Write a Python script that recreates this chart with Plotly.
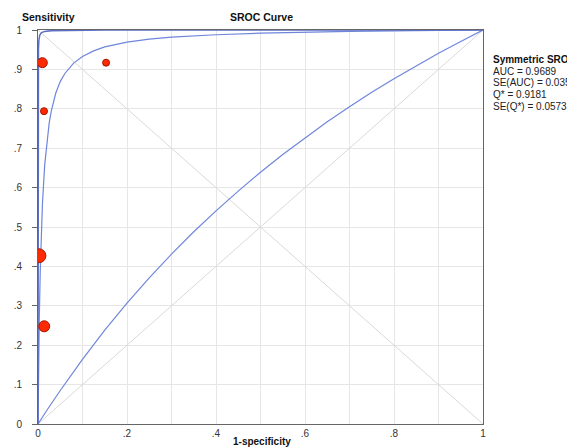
import plotly.graph_objects as go

# Study points (1-specificity, sensitivity, relative weight)
study_fpr = [0.0097, 0.153, 0.0135, 0.002, 0.014]
study_sens = [0.917, 0.917, 0.794, 0.427, 0.248]
study_weight = [5.0, 3.5, 3.5, 7.0, 5.5]

# Outer (tight) curve
outer_fpr = [0, 0.00002, 0.0001, 0.0003, 0.0006, 0.001, 0.002, 0.004, 0.008, 0.015, 0.03, 0.06, 0.15, 0.4, 1.0]
outer_sens = [0, 0.275, 0.655, 0.851, 0.919, 0.950, 0.974, 0.987, 0.9934, 0.9965, 0.9984, 0.9992, 0.9997, 0.9999, 1.0]

# Symmetric SROC curve (middle)
mid_fpr = [0, 0.0005, 0.001, 0.002, 0.003, 0.005, 0.0075, 0.01, 0.015, 0.02, 0.025, 0.03, 0.04, 0.05, 0.06,
           0.08, 0.1, 0.125, 0.15, 0.2, 0.25, 0.3, 0.4, 0.5, 0.6, 0.7, 0.8, 0.9, 1.0]
mid_sens = [0, 0.059, 0.112, 0.201, 0.274, 0.387, 0.487, 0.559, 0.657, 0.720, 0.763, 0.795, 0.840, 0.869, 0.889,
            0.916, 0.933, 0.947, 0.957, 0.969, 0.977, 0.982, 0.988, 0.992, 0.9947, 0.9966, 0.998, 0.9991, 1.0]

# Lower curve
low_fpr = [0, 0.005, 0.02, 0.05, 0.1, 0.15, 0.2, 0.25, 0.3, 0.35, 0.4, 0.45, 0.5, 0.55, 0.6, 0.65, 0.7, 0.75, 0.8,
           0.85, 0.9, 0.95, 1.0]
low_sens = [0, 0.009, 0.035, 0.085, 0.164, 0.238, 0.307, 0.371, 0.431, 0.488, 0.541, 0.591, 0.639, 0.684, 0.726,
            0.767, 0.805, 0.842, 0.876, 0.909, 0.941, 0.971, 1.0]

x_ticks = [0, 0.2, 0.4, 0.6, 0.8, 1]
x_tick_labels = ["0", ".2", ".4", ".6", ".8", "1"]
y_ticks = [0, 0.1, 0.2, 0.3, 0.4, 0.5, 0.6, 0.7, 0.8, 0.9, 1]
y_tick_labels = ["0", ".1", ".2", ".3", ".4", ".5", ".6", ".7", ".8", ".9", "1"]

stats_title = "Symmetric SROC"
stats_lines = ["AUC = 0.9689", "SE(AUC) = 0.0350", "Q* = 0.9181", "SE(Q*) = 0.0573"]

curve_color = "#6f86dc"
diag_color = "#d9d9d9"
font_family = "Liberation Sans, Arial, sans-serif"

fig = go.Figure()

# diagonals
fig.add_trace(go.Scatter(x=[0, 1], y=[0, 1], mode="lines", line=dict(color=diag_color, width=1), hoverinfo="skip"))
fig.add_trace(go.Scatter(x=[0, 1], y=[1, 0], mode="lines", line=dict(color=diag_color, width=1), hoverinfo="skip"))

fig.add_trace(go.Scatter(x=low_fpr, y=low_sens, mode="lines", line=dict(color=curve_color, width=1.2), hoverinfo="skip"))
fig.add_trace(go.Scatter(x=mid_fpr, y=mid_sens, mode="lines", line=dict(color=curve_color, width=1.2), hoverinfo="skip"))
fig.add_trace(go.Scatter(x=outer_fpr, y=outer_sens, mode="lines", line=dict(color="#5b6fc4", width=1.5), hoverinfo="skip"))

fig.add_trace(go.Scatter(
    x=study_fpr, y=study_sens, mode="markers", opacity=1,
    marker=dict(size=[2 * w for w in study_weight], color="#ff2a00", opacity=1,
                line=dict(color="#a31500", width=1)),
))

axis_common = dict(
    showgrid=True, gridcolor="#e6e6e6", gridwidth=1, zeroline=False,
    showline=True, linecolor="#666666", linewidth=1, mirror=True, automargin=False,
    tickfont=dict(family=font_family, size=10, color="#333333"),
)

fig.update_layout(
    width=567, height=447,
    margin=dict(l=38, r=84, t=30, b=23),
    paper_bgcolor="white", plot_bgcolor="white",
    showlegend=False,
    font=dict(family=font_family),
    xaxis=dict(range=[0, 1], tickvals=x_ticks, ticktext=x_tick_labels, ticks="", ticklabelstandoff=0, **axis_common),
    yaxis=dict(range=[0, 1], tickvals=y_ticks, ticktext=y_tick_labels, ticks="outside", ticklen=5,
               tickcolor="#666666", ticklabelstandoff=8, **axis_common),
)
fig.update_xaxes(minor=dict(tickvals=[0.1, 0.3, 0.5, 0.7, 0.9], showgrid=True, gridcolor="#e6e6e6", ticks=""))

annots = [
    dict(text="<b>Sensitivity</b>", x=-0.04, y=1.033, xanchor="left", yanchor="middle", font=dict(size=10.5, color="#111")),
    dict(text="<b>SROC Curve</b>", x=0.503, y=1.033, xanchor="center", yanchor="middle", font=dict(size=10.5, color="#111")),
    dict(text="<b>1-specificity</b>", x=0.503, y=-0.045, xanchor="center", yanchor="middle", font=dict(size=10, color="#111")),
    dict(text="<b>" + stats_title + "</b>", x=1.018, y=(424 - 59) / 394, xanchor="left", yanchor="middle", font=dict(size=10, color="#111")),
]
for i, s in enumerate(stats_lines):
    annots.append(dict(text=s, x=1.018, y=(424 - (71 + 11.8 * i)) / 394, xanchor="left", yanchor="middle",
                       font=dict(size=10, color="#222")))
for a in annots:
    a.update(xref="paper", yref="paper", showarrow=False)
fig.update_layout(annotations=annots)

fig.write_html("out.html")
